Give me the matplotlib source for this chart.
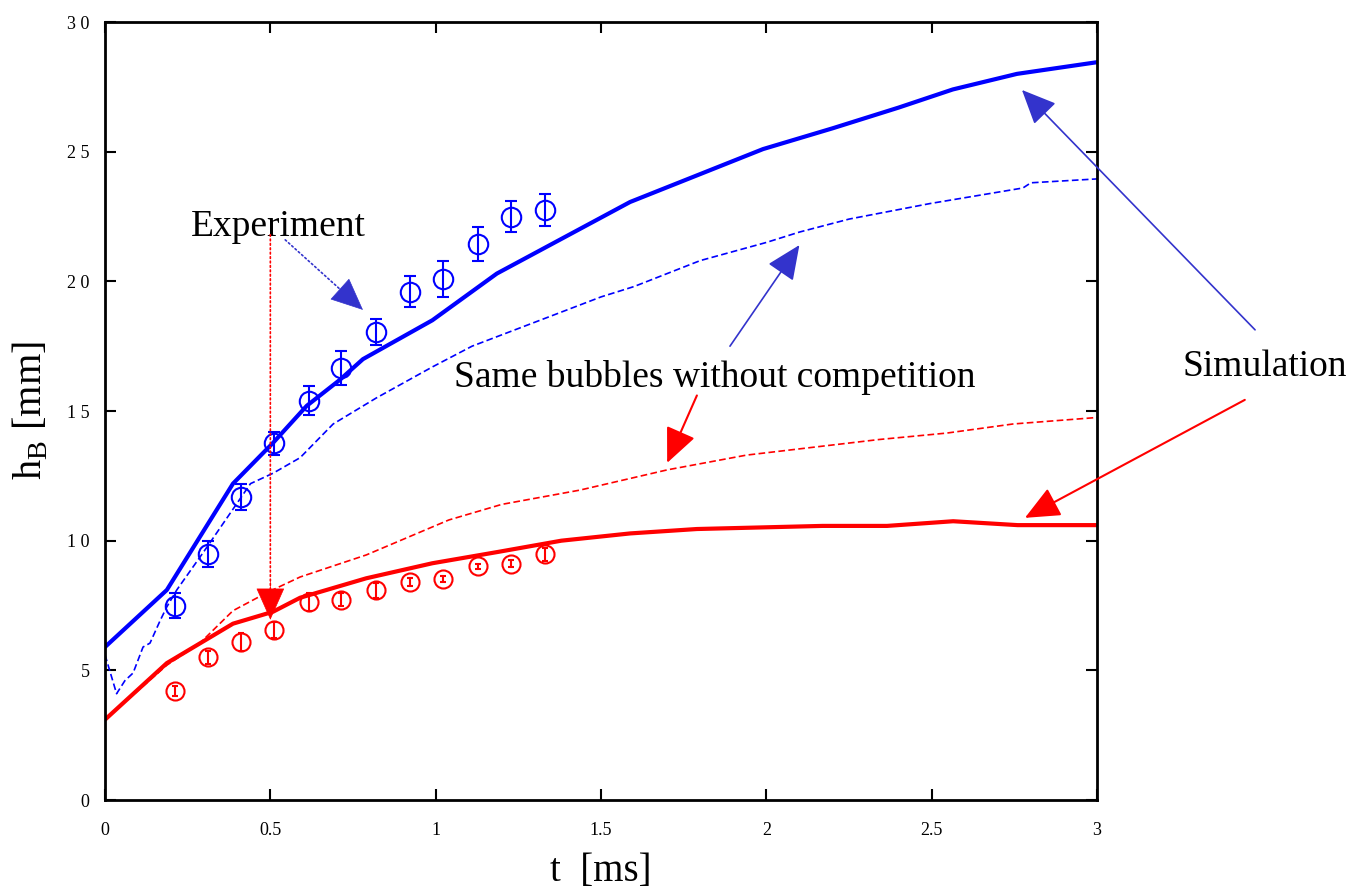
import matplotlib
matplotlib.use("Agg")
import matplotlib.pyplot as plt
import numpy as np

plt.rcParams['font.family'] = ['Liberation Serif', 'DejaVu Serif']
plt.rcParams['mathtext.fontset'] = 'custom'
plt.rcParams['mathtext.rm'] = 'Liberation Serif'

# Simulation with competition (solid)
t_blue_sim = [0.0, 0.187, 0.387, 0.508, 0.61, 0.71, 0.78, 0.99, 1.185, 1.588, 1.99, 2.20, 2.40, 2.564, 2.758, 3.0]
h_blue_sim = [5.9, 8.1, 12.2, 13.77, 15.2, 16.2, 17.0, 18.5, 20.3, 23.06, 25.1, 25.9, 26.7, 27.4, 28.0, 28.45]

t_red_sim = [0.0, 0.187, 0.387, 0.508, 0.59, 0.79, 0.99, 1.19, 1.38, 1.588, 1.79, 2.17, 2.365, 2.565, 2.76, 3.0]
h_red_sim = [3.1, 5.28, 6.8, 7.26, 7.8, 8.55, 9.13, 9.57, 10.0, 10.28, 10.45, 10.57, 10.57, 10.75, 10.6, 10.6]

# Same bubbles without competition (dashed)
t_blue_nc = [0.0, 0.035, 0.06, 0.085, 0.115, 0.136, 0.166, 0.187, 0.217, 0.30, 0.44, 0.508, 0.59, 0.69,
             0.82, 0.99, 1.11, 1.295, 1.50, 1.60, 1.80, 2.00, 2.10, 2.25, 2.495, 2.776, 2.80, 3.0]
h_blue_nc = [5.6, 4.1, 4.6, 4.9, 5.9, 6.05, 6.9, 7.45, 8.1, 9.6, 12.2, 12.6, 13.2, 14.5,
             15.5, 16.7, 17.5, 18.4, 19.4, 19.8, 20.8, 21.5, 21.9, 22.4, 23.0, 23.6, 23.8, 23.95]

t_red_nc = [0.0, 0.187, 0.287, 0.387, 0.49, 0.59, 0.79, 1.04, 1.2, 1.436, 1.70, 1.94, 2.34, 2.546, 2.746, 3.0]
h_red_nc = [3.1, 5.2, 6.05, 7.3, 8.0, 8.6, 9.45, 10.8, 11.4, 11.95, 12.73, 13.3, 13.9, 14.15, 14.5, 14.75]

# Experiment
t_exp = [0.212, 0.311, 0.411, 0.511, 0.617, 0.714, 0.82, 0.922, 1.022, 1.128, 1.228, 1.33]
h_blue_exp = [7.5, 9.5, 11.7, 13.75, 15.4, 16.65, 18.05, 19.6, 20.1, 21.45, 22.5, 22.75]
e_blue_exp = [0.48, 0.5, 0.5, 0.45, 0.55, 0.66, 0.5, 0.6, 0.7, 0.65, 0.6, 0.63]
h_red_exp = [4.2, 5.5, 6.1, 6.56, 7.65, 7.72, 8.08, 8.4, 8.52, 9.02, 9.12, 9.48]
e_red_exp = [0.2, 0.25, 0.35, 0.3, 0.35, 0.25, 0.3, 0.15, 0.12, 0.1, 0.15, 0.25]

x_ticks = [0, 0.5, 1, 1.5, 2, 2.5, 3]
x_ticklabels = ['0', '0.5', '1', '1.5', '2', '2.5', '3']
y_ticks = [0, 5, 10, 15, 20, 25, 30]
y_ticklabels = ['0', '5', '1 0', '1 5', '2 0', '2 5', '3 0']

BLUE = '#0000ff'
RED = '#ff0000'
ABLUE = '#3333cc'

fig = plt.figure(figsize=(13.55, 8.91), dpi=100)
ax = fig.add_axes([0.0775, 0.1021, 0.8096 - 0.0775, 0.9753 - 0.1021])

ax.plot(t_blue_sim, h_blue_sim, color=BLUE, lw=3.0, solid_joinstyle='round')
ax.plot(t_red_sim, h_red_sim, color=RED, lw=3.0, solid_joinstyle='round')
ax.plot(t_blue_nc, h_blue_nc, color=BLUE, lw=1.2, ls=(0, (4, 2)))
ax.plot(t_red_nc, h_red_nc, color=RED, lw=1.2, ls=(0, (4, 2)))

ax.errorbar(t_exp, h_blue_exp, yerr=e_blue_exp, fmt='o', mfc='none', mec=BLUE, ecolor=BLUE,
            ms=14, mew=1.5, elinewidth=1.5, capsize=4, capthick=1.5)
ax.errorbar(t_exp, h_red_exp, yerr=e_red_exp, fmt='o', mfc='none', mec=RED, ecolor=RED,
            ms=13, mew=1.5, elinewidth=1.5, capsize=2.5, capthick=1.5)

ax.set_xlim(0, 3)
ax.set_ylim(0, 30)
ax.set_xticks(x_ticks)
ax.set_xticklabels(x_ticklabels)
ax.set_yticks(y_ticks)
ax.set_yticklabels(y_ticklabels)
ax.tick_params(direction='in', length=8, width=1.5, top=True, right=True, labelsize=13)
ax.tick_params(axis='x', pad=16)
ax.tick_params(axis='y', pad=11)
for s in ax.spines.values():
    s.set_linewidth(2)

ax.set_xlabel('t  [ms]', fontsize=28, labelpad=10)
ax.set_ylabel(r'h$_{\mathrm{B}}$ [mm]', fontsize=29, labelpad=12)

hs = '-|>,head_length=0.9,head_width=0.4'
MS = 24


def arrow(xy, xytext, color, lw, dotted=False):
    if dotted:
        ax.annotate('', xy=xy, xytext=xytext, annotation_clip=False,
                    arrowprops=dict(arrowstyle='-', color=color, lw=lw, ls=':',
                                    shrinkA=0, shrinkB=10))
        # short solid segment carrying the arrow head
        fx = xytext[0] + 0.9 * (xy[0] - xytext[0])
        fy = xytext[1] + 0.9 * (xy[1] - xytext[1])
        ax.annotate('', xy=xy, xytext=(fx, fy), annotation_clip=False,
                    arrowprops=dict(arrowstyle=hs, mutation_scale=MS, color=color, lw=0.5,
                                    shrinkA=0, shrinkB=0))
    else:
        ax.annotate('', xy=xy, xytext=xytext, annotation_clip=False,
                    arrowprops=dict(arrowstyle=hs, mutation_scale=MS, color=color, lw=lw,
                                    shrinkA=0, shrinkB=0))


ax.text(0.525, 22.1, 'Experiment', fontsize=27, ha='center', va='center')
arrow((0.78, 18.9), (0.545, 21.6), ABLUE, 1.2, dotted=True)
arrow((0.5, 6.95), (0.5, 21.8), RED, 1.2, dotted=True)

ax.text(1.845, 16.3, 'Same bubbles without competition', fontsize=27, ha='center', va='center')
arrow((2.1, 21.4), (1.89, 17.5), ABLUE, 1.2)
arrow((1.70, 13.0), (1.79, 15.6), RED, 1.5)

ax.text(3.508, 16.7, 'Simulation', fontsize=27, ha='center', va='center', clip_on=False)
arrow((2.773, 27.38), (3.478, 18.13), ABLUE, 1.2)
arrow((2.782, 10.88), (3.447, 15.43), RED, 1.5)

fig.savefig('out.png', dpi=100)
